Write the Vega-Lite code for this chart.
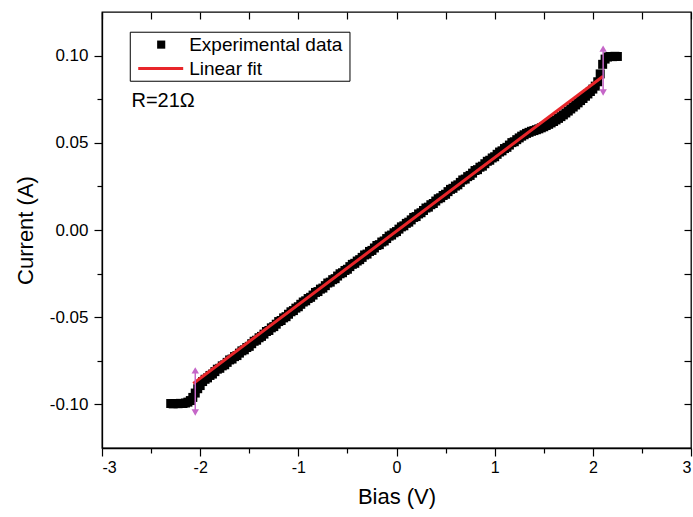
{
  "$schema": "https://vega.github.io/schema/vega-lite/v6.json",
  "width": 589,
  "height": 436,
  "autosize": {"type": "none"},
  "padding": {"left": 102, "top": 12, "right": 2, "bottom": 69},
  "background": "white",
  "config": {
    "font": "Liberation Sans",
    "view": {"stroke": "black", "strokeWidth": 1.3},
    "axis": {"grid": false, "domainColor": "black", "domainWidth": 1.3, "tickColor": "black", "tickWidth": 1.2, "labelColor": "black", "titleColor": "black", "labelFont": "Liberation Sans", "titleFont": "Liberation Sans", "titleFontWeight": "normal", "labelFontSize": 16, "titleFontSize": 22},
    "locale": {"number": {"decimal": ".", "thousands": ",", "grouping": [3], "currency": ["$", ""], "minus": "-"}}
  },
  "datasets": {
    "iv": [
      {"V": -2.300, "I": -0.0995}, {"V": -2.275, "I": -0.0997}, {"V": -2.250, "I": -0.0995}, {"V": -2.225, "I": -0.0996},
      {"V": -2.200, "I": -0.0994}, {"V": -2.175, "I": -0.0995}, {"V": -2.150, "I": -0.0992}, {"V": -2.125, "I": -0.0987},
      {"V": -2.100, "I": -0.0978}, {"V": -2.075, "I": -0.0960}, {"V": -2.050, "I": -0.0935}, {"V": -2.025, "I": -0.0910},
      {"V": -2.000, "I": -0.0892}, {"V": -1.975, "I": -0.0869}, {"V": -1.950, "I": -0.0856}, {"V": -1.925, "I": -0.0848},
      {"V": -1.900, "I": -0.0834}, {"V": -1.875, "I": -0.0826}, {"V": -1.850, "I": -0.0812}, {"V": -1.825, "I": -0.0798},
      {"V": -1.800, "I": -0.0793}, {"V": -1.775, "I": -0.0779}, {"V": -1.750, "I": -0.0773}, {"V": -1.725, "I": -0.0759},
      {"V": -1.700, "I": -0.0745}, {"V": -1.675, "I": -0.0740}, {"V": -1.650, "I": -0.0726}, {"V": -1.625, "I": -0.0720},
      {"V": -1.600, "I": -0.0706}, {"V": -1.575, "I": -0.0693}, {"V": -1.550, "I": -0.0687}, {"V": -1.525, "I": -0.0674},
      {"V": -1.500, "I": -0.0667}, {"V": -1.475, "I": -0.0652}, {"V": -1.450, "I": -0.0638}, {"V": -1.425, "I": -0.0632},
      {"V": -1.400, "I": -0.0618}, {"V": -1.375, "I": -0.0610}, {"V": -1.350, "I": -0.0597}, {"V": -1.325, "I": -0.0582},
      {"V": -1.300, "I": -0.0576}, {"V": -1.275, "I": -0.0561}, {"V": -1.250, "I": -0.0554}, {"V": -1.225, "I": -0.0540},
      {"V": -1.200, "I": -0.0525}, {"V": -1.175, "I": -0.0519}, {"V": -1.150, "I": -0.0504}, {"V": -1.125, "I": -0.0497},
      {"V": -1.100, "I": -0.0483}, {"V": -1.075, "I": -0.0469}, {"V": -1.050, "I": -0.0462}, {"V": -1.025, "I": -0.0448},
      {"V": -1.000, "I": -0.0440}, {"V": -0.975, "I": -0.0426}, {"V": -0.950, "I": -0.0413}, {"V": -0.925, "I": -0.0406},
      {"V": -0.900, "I": -0.0393}, {"V": -0.875, "I": -0.0386}, {"V": -0.850, "I": -0.0373}, {"V": -0.825, "I": -0.0358},
      {"V": -0.800, "I": -0.0353}, {"V": -0.775, "I": -0.0339}, {"V": -0.750, "I": -0.0333}, {"V": -0.725, "I": -0.0319},
      {"V": -0.700, "I": -0.0304}, {"V": -0.675, "I": -0.0299}, {"V": -0.650, "I": -0.0285}, {"V": -0.625, "I": -0.0279},
      {"V": -0.600, "I": -0.0264}, {"V": -0.575, "I": -0.0251}, {"V": -0.550, "I": -0.0245}, {"V": -0.525, "I": -0.0232},
      {"V": -0.500, "I": -0.0225}, {"V": -0.475, "I": -0.0210}, {"V": -0.450, "I": -0.0197}, {"V": -0.425, "I": -0.0191},
      {"V": -0.400, "I": -0.0178}, {"V": -0.375, "I": -0.0170}, {"V": -0.350, "I": -0.0157}, {"V": -0.325, "I": -0.0143},
      {"V": -0.300, "I": -0.0138}, {"V": -0.275, "I": -0.0123}, {"V": -0.250, "I": -0.0117}, {"V": -0.225, "I": -0.0103},
      {"V": -0.200, "I": -0.0089}, {"V": -0.175, "I": -0.0084}, {"V": -0.150, "I": -0.0069}, {"V": -0.125, "I": -0.0063},
      {"V": -0.100, "I": -0.0049}, {"V": -0.075, "I": -0.0035}, {"V": -0.050, "I": -0.0029}, {"V": -0.025, "I": -0.0016},
      {"V": 0.000, "I": -0.0009}, {"V": 0.025, "I": 0.0005}, {"V": 0.050, "I": 0.0018}, {"V": 0.075, "I": 0.0024},
      {"V": 0.100, "I": 0.0038}, {"V": 0.125, "I": 0.0045}, {"V": 0.150, "I": 0.0058}, {"V": 0.175, "I": 0.0072},
      {"V": 0.200, "I": 0.0077}, {"V": 0.225, "I": 0.0092}, {"V": 0.250, "I": 0.0099}, {"V": 0.275, "I": 0.0112},
      {"V": 0.300, "I": 0.0126}, {"V": 0.325, "I": 0.0131}, {"V": 0.350, "I": 0.0145}, {"V": 0.375, "I": 0.0152},
      {"V": 0.400, "I": 0.0166}, {"V": 0.425, "I": 0.0179}, {"V": 0.450, "I": 0.0185}, {"V": 0.475, "I": 0.0198},
      {"V": 0.500, "I": 0.0205}, {"V": 0.525, "I": 0.0220}, {"V": 0.550, "I": 0.0233}, {"V": 0.575, "I": 0.0239},
      {"V": 0.600, "I": 0.0252}, {"V": 0.625, "I": 0.0259}, {"V": 0.650, "I": 0.0273}, {"V": 0.675, "I": 0.0287},
      {"V": 0.700, "I": 0.0292}, {"V": 0.725, "I": 0.0306}, {"V": 0.750, "I": 0.0313}, {"V": 0.775, "I": 0.0326},
      {"V": 0.800, "I": 0.0341}, {"V": 0.825, "I": 0.0346}, {"V": 0.850, "I": 0.0360}, {"V": 0.875, "I": 0.0366},
      {"V": 0.900, "I": 0.0380}, {"V": 0.925, "I": 0.0394}, {"V": 0.950, "I": 0.0400}, {"V": 0.975, "I": 0.0413},
      {"V": 1.000, "I": 0.0420}, {"V": 1.025, "I": 0.0434}, {"V": 1.050, "I": 0.0447}, {"V": 1.075, "I": 0.0454},
      {"V": 1.100, "I": 0.0467}, {"V": 1.125, "I": 0.0474}, {"V": 1.150, "I": 0.0487}, {"V": 1.175, "I": 0.0501},
      {"V": 1.200, "I": 0.0506}, {"V": 1.225, "I": 0.0518}, {"V": 1.250, "I": 0.0528}, {"V": 1.275, "I": 0.0538},
      {"V": 1.300, "I": 0.0546}, {"V": 1.325, "I": 0.0554}, {"V": 1.350, "I": 0.0560}, {"V": 1.375, "I": 0.0566},
      {"V": 1.400, "I": 0.0570}, {"V": 1.425, "I": 0.0575}, {"V": 1.450, "I": 0.0580}, {"V": 1.475, "I": 0.0586},
      {"V": 1.500, "I": 0.0592}, {"V": 1.525, "I": 0.0599}, {"V": 1.550, "I": 0.0606}, {"V": 1.575, "I": 0.0614},
      {"V": 1.600, "I": 0.0622}, {"V": 1.625, "I": 0.0631}, {"V": 1.650, "I": 0.0640}, {"V": 1.675, "I": 0.0650},
      {"V": 1.700, "I": 0.0660}, {"V": 1.725, "I": 0.0671}, {"V": 1.750, "I": 0.0682}, {"V": 1.775, "I": 0.0694},
      {"V": 1.800, "I": 0.0705}, {"V": 1.825, "I": 0.0717}, {"V": 1.850, "I": 0.0729}, {"V": 1.875, "I": 0.0742},
      {"V": 1.900, "I": 0.0754}, {"V": 1.925, "I": 0.0767}, {"V": 1.950, "I": 0.0780}, {"V": 1.975, "I": 0.0794},
      {"V": 2.000, "I": 0.0808}, {"V": 2.025, "I": 0.0825}, {"V": 2.050, "I": 0.0850}, {"V": 2.075, "I": 0.0895},
      {"V": 2.100, "I": 0.0950}, {"V": 2.125, "I": 0.0980}, {"V": 2.150, "I": 0.0992}, {"V": 2.175, "I": 0.0995},
      {"V": 2.200, "I": 0.0994}, {"V": 2.225, "I": 0.0996}, {"V": 2.250, "I": 0.0995}
    ],
    "fit": [
      {"V": -2.07, "I": -0.0880},
      {"V": 2.105, "I": 0.0882}
    ],
    "arrows": [
      {"V": -2.05, "Itop": -0.0805, "Ibot": -0.1046},
      {"V": 2.105, "Itop": 0.1040, "Ibot": 0.0788}
    ],
    "legendbox": [{"x1": -2.712, "x2": -0.474, "y1": 0.0853, "y2": 0.1134}],
    "legendsym": [{"V": -2.397, "I": 0.1063}],
    "legendline": [{"x1": -2.631, "x2": -2.173, "y": 0.0926}],
    "labels": [
      {"V": -2.112, "I": 0.1063, "text": "Experimental data", "kind": "legend"},
      {"V": -2.112, "I": 0.0926, "text": "Linear fit", "kind": "legend"},
      {"V": -2.70, "I": 0.0739, "text": "R=21Ω", "kind": "note"}
    ]
  },
  "resolve": {"axis": {"x": "independent", "y": "independent"}},
  "layer": [
    {
      "data": {"name": "iv"},
      "mark": {"type": "point", "shape": "square", "filled": true, "color": "black", "opacity": 1, "size": 81},
      "encoding": {
        "x": {"field": "V", "type": "quantitative", "scale": {"domain": [-3, 3], "nice": false, "zero": false},
          "axis": {"orient": "bottom", "values": [-3, -2, -1, 0, 1, 2, 3], "format": "d", "tickSize": 8, "labelPadding": 3, "titlePadding": 11, "title": "Bias (V)"}},
        "y": {"field": "I", "type": "quantitative", "scale": {"domain": [-0.125, 0.125], "nice": false, "zero": false},
          "axis": {"orient": "left", "values": [-0.1, -0.05, 0, 0.05, 0.1], "format": ".2f", "tickSize": 8, "labelPadding": 6, "labelFontSize": 17, "titlePadding": 12, "title": "Current (A)"}}
      }
    },
    {
      "data": {"name": "fit"},
      "mark": {"type": "line", "color": "#e8262a", "strokeWidth": 3},
      "encoding": {
        "x": {"field": "V", "type": "quantitative", "scale": {"domain": [-3, 3], "nice": false, "zero": false},
          "axis": {"orient": "bottom", "values": [-2.5, -1.5, -0.5, 0.5, 1.5, 2.5], "tickSize": 5, "labels": false, "domain": false, "title": null}},
        "y": {"field": "I", "type": "quantitative", "scale": {"domain": [-0.125, 0.125], "nice": false, "zero": false},
          "axis": {"orient": "left", "values": [-0.075, -0.025, 0.025, 0.075], "tickSize": 5, "labels": false, "domain": false, "title": null}}
      }
    },
    {
      "data": {"name": "arrows"},
      "mark": {"type": "rule", "color": "#c566c8", "strokeWidth": 1.5},
      "encoding": {
        "x": {"field": "V", "type": "quantitative", "scale": {"domain": [-3, 3], "nice": false, "zero": false},
          "axis": {"orient": "top", "values": [-3, -2.5, -2, -1.5, -1, -0.5, 0, 0.5, 1, 1.5, 2, 2.5, 3], "tickSize": 7, "offset": -7, "labels": false, "domain": false, "title": null}},
        "y": {"field": "Itop", "type": "quantitative", "scale": {"domain": [-0.125, 0.125], "nice": false, "zero": false},
          "axis": {"orient": "right", "values": [-0.1, -0.075, -0.05, -0.025, 0, 0.025, 0.05, 0.075, 0.1], "tickSize": 7, "offset": -7, "labels": false, "domain": false, "title": null}},
        "y2": {"field": "Ibot"}
      }
    },
    {
      "data": {"name": "arrows"},
      "mark": {"type": "point", "shape": "triangle-up", "filled": true, "color": "#c566c8", "opacity": 1, "size": 55},
      "encoding": {
        "x": {"field": "V", "type": "quantitative", "scale": {"domain": [-3, 3]}, "axis": null},
        "y": {"field": "Itop", "type": "quantitative", "scale": {"domain": [-0.125, 0.125]}, "axis": null}
      }
    },
    {
      "data": {"name": "arrows"},
      "mark": {"type": "point", "shape": "triangle-down", "filled": true, "color": "#c566c8", "opacity": 1, "size": 55},
      "encoding": {
        "x": {"field": "V", "type": "quantitative", "scale": {"domain": [-3, 3]}, "axis": null},
        "y": {"field": "Ibot", "type": "quantitative", "scale": {"domain": [-0.125, 0.125]}, "axis": null}
      }
    },
    {
      "data": {"name": "legendbox"},
      "mark": {"type": "rect", "fill": "white", "stroke": "black", "strokeWidth": 1},
      "encoding": {
        "x": {"field": "x1", "type": "quantitative", "scale": {"domain": [-3, 3]}, "axis": null},
        "x2": {"field": "x2"},
        "y": {"field": "y1", "type": "quantitative", "scale": {"domain": [-0.125, 0.125]}, "axis": null},
        "y2": {"field": "y2"}
      }
    },
    {
      "data": {"name": "legendsym"},
      "mark": {"type": "point", "shape": "square", "filled": true, "color": "black", "opacity": 1, "size": 66},
      "encoding": {
        "x": {"field": "V", "type": "quantitative", "scale": {"domain": [-3, 3]}, "axis": null},
        "y": {"field": "I", "type": "quantitative", "scale": {"domain": [-0.125, 0.125]}, "axis": null}
      }
    },
    {
      "data": {"name": "legendline"},
      "mark": {"type": "rule", "color": "#e8262a", "strokeWidth": 3},
      "encoding": {
        "x": {"field": "x1", "type": "quantitative", "scale": {"domain": [-3, 3]}, "axis": null},
        "x2": {"field": "x2"},
        "y": {"field": "y", "type": "quantitative", "scale": {"domain": [-0.125, 0.125]}, "axis": null}
      }
    },
    {
      "data": {"name": "labels"},
      "mark": {"type": "text", "align": "left", "baseline": "middle", "color": "black", "font": "Liberation Sans"},
      "encoding": {
        "x": {"field": "V", "type": "quantitative", "scale": {"domain": [-3, 3]}, "axis": null},
        "y": {"field": "I", "type": "quantitative", "scale": {"domain": [-0.125, 0.125]}, "axis": null},
        "text": {"field": "text"},
        "size": {"field": "kind", "type": "nominal", "scale": {"domain": ["legend", "note"], "range": [19, 20]}, "legend": null}
      }
    }
  ]
}
